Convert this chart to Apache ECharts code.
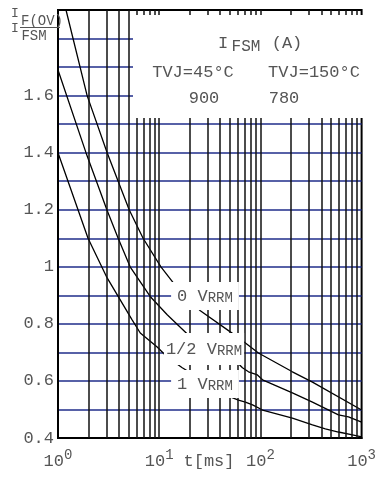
<!DOCTYPE html>
<html>
<head>
<meta charset="utf-8">
<script src="https://cdn.jsdelivr.net/npm/echarts@6/dist/echarts.min.js"></script>
<style>
html, body { margin: 0; padding: 0; background: #fff; }
#chart { width: 379px; height: 479px; }
</style>
</head>
<body>
<div id="chart"></div>
<script>
"use strict";
// curve 0 VRRM
var tZero = [1.2, 1.94, 3.06, 3.93, 5.05, 6.93, 10.4, 13.8, 25.5, 50.4, 71.1, 95.6, 207, 327, 1000];
var vZero = [1.90, 1.60, 1.40, 1.30, 1.20, 1.10, 1.00, 0.944, 0.846, 0.772, 0.733, 0.698, 0.632, 0.596, 0.498];
// curve 1/2 VRRM
var tHalf = [1, 1.89, 3.04, 3.93, 5.16, 8.14, 12.0, 19.4, 52.8, 60.7, 66.5, 76.3, 93.5, 105, 207, 327, 590, 742, 1000];
var vHalf = [1.69, 1.40, 1.20, 1.10, 1.00, 0.896, 0.832, 0.761, 0.663, 0.660, 0.646, 0.632, 0.621, 0.604, 0.558, 0.526, 0.481, 0.474, 0.456];
// curve 1 VRRM
var tOne = [1, 1.98, 3.06, 5.4, 6.5, 9.55, 12.0, 16.9, 50.4, 60.7, 71.1, 83.6, 105, 207, 327, 438, 590, 812, 1000];
var vOne = [1.40, 1.10, 0.961, 0.814, 0.768, 0.719, 0.684, 0.646, 0.544, 0.533, 0.526, 0.516, 0.498, 0.470, 0.446, 0.432, 0.421, 0.411, 0.404];

var logGridLines = [2, 3, 4, 5, 6, 7, 8, 9, 10, 20, 30, 40, 50, 60, 70, 80, 90, 100, 200, 300, 400, 500, 600, 700, 800, 900];
var yTickLabels = ['0.4', '0.6', '0.8', '1', '1.2', '1.4', '1.6'];

var FONT = '"Liberation Mono", "Courier New", monospace';
var TXT = '#555';

function zip(xs, ys) {
	return xs.map(function (x, i) { return [x, ys[i]]; });
}

function curve(name, xs, ys) {
	return {
		name: name,
		type: 'line',
		data: zip(xs, ys),
		showSymbol: false,
		symbol: 'none',
		lineStyle: { color: '#000', width: 1.3 },
		animation: false,
		silent: true,
		z: 3
	};
}

var chart = echarts.init(document.getElementById('chart'));

var option = {
	animation: false,
	grid: {
		left: 58,
		right: 17,
		top: 10,
		bottom: 41,
		show: true,
		borderColor: '#000',
		borderWidth: 2
	},
	xAxis: {
		type: 'log',
		logBase: 10,
		min: 1,
		max: 1000,
		axisLine: { lineStyle: { color: '#000', width: 2 } },
		axisTick: { show: false },
		splitLine: { show: false },
		axisLabel: {
			margin: 10,
			formatter: function (v) {
				return '{b|10}{s|' + Math.round(Math.log10(v)) + '}';
			},
			rich: {
				b: { fontFamily: FONT, fontSize: 17, color: TXT },
				s: { fontFamily: FONT, fontSize: 14, color: TXT, padding: [0, 0, 12, 0] }
			}
		}
	},
	yAxis: {
		type: 'value',
		min: 0.4,
		max: 1.9,
		interval: 0.1,
		axisLine: { show: true, lineStyle: { color: '#000', width: 2 } },
		axisTick: { show: false },
		splitLine: {
			show: true,
			showMinLine: false,
			showMaxLine: false,
			lineStyle: { color: '#1f2d8a', width: 1.6 }
		},
		axisLabel: {
			margin: 4,
			fontFamily: FONT,
			fontSize: 17,
			color: TXT,
			formatter: function (v) {
				var s = String(Math.round(v * 10) / 10);
				return yTickLabels.indexOf(s) >= 0 ? s : '';
			}
		}
	},
	series: [
		{
			type: 'line',
			data: [],
			silent: true,
			z: 1,
			markLine: {
				silent: true,
				symbol: ['none', 'none'],
				label: { show: false },
				lineStyle: { color: '#111', width: 1.5, type: 'solid' },
				animation: false,
				data: logGridLines.map(function (t) { return { xAxis: t }; })
			}
		},
		curve('0 VRRM', tZero, vZero),
		curve('1/2 VRRM', tHalf, vHalf),
		curve('1 VRRM', tOne, vOne)
	]
};
chart.setOption(option);

function vrrmLabel(pre, x, y, pad) {
	return {
		type: 'text',
		x: x,
		y: y,
		z: 100,
		style: {
			text: '{a|' + pre + 'V}{b|RRM}',
			align: 'center',
			verticalAlign: 'middle',
			backgroundColor: '#fff',
			padding: pad,
			rich: {
				a: { fontFamily: FONT, fontSize: 17, fill: TXT, color: TXT },
				b: { fontFamily: FONT, fontSize: 14, fill: TXT, color: TXT, padding: [4, 0, 0, 0] }
			}
		}
	};
}

function txt(s, x, y, size, align) {
	return {
		type: 'text',
		x: x,
		y: y,
		z: 101,
		style: {
			text: s,
			font: size + 'px ' + FONT,
			fill: TXT,
			align: align || 'center',
			verticalAlign: 'middle'
		}
	};
}

chart.setOption({
	graphic: [
		// legend panel
		{ type: 'rect', z: 99, shape: { x: 133, y: 15, width: 231, height: 103 }, style: { fill: '#fff' } },
		txt('I', 223, 43, 17),
		txt('FSM', 246, 47, 16),
		txt('(A)', 287, 43, 17),
		txt('TVJ=45°C', 193, 72, 17),
		txt('TVJ=150°C', 314, 72, 17),
		txt('900', 204, 98, 17),
		txt('780', 284, 98, 17),
		// curve labels
		vrrmLabel('0 ', 205, 296, [5, 6, 5, 6]),
		vrrmLabel('1/2 ', 204, 349, [7, 2, 7, 2]),
		vrrmLabel('1 ', 205, 384, [5, 6, 5, 6]),
		// axis titles
		txt('I', 15, 14, 13),
		txt('F(OV)', 42, 21, 14),
		{ type: 'rect', z: 100, shape: { x: 20, y: 27, width: 40, height: 1 }, style: { fill: TXT } },
		txt('I', 15, 29, 13),
		txt('FSM', 34, 36, 14),
		txt('t[ms]', 209, 461, 17)
	]
});
</script>
</body>
</html>
